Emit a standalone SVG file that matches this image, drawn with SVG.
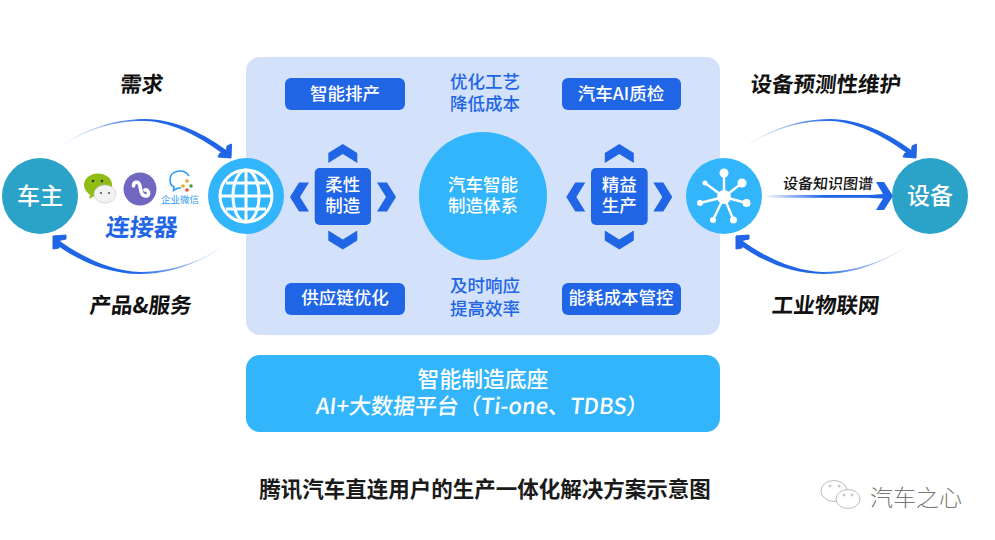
<svg xmlns="http://www.w3.org/2000/svg" width="995" height="540" viewBox="0 0 995 540">
<style>
text{font-family:"Noto Sans CJK SC","Noto Sans",sans-serif;text-anchor:middle}
.lbl{font-size:21.500px;font-weight:700;fill:#111}
.w{fill:#fff;font-weight:500}
.t{font-size:17.500px}
.pill{fill:#1f65e6}
.blue{fill:#1f65e6;font-weight:500}
.ch{fill:#1f65e6}
.teal{fill:#2ba2c8}
.sky{fill:#33b5fb}
.gl{fill:none;stroke:#fff;stroke-width:3}
.nw{stroke:#fff;stroke-width:2.4}
</style>
<defs>
<linearGradient id="gr" gradientUnits="userSpaceOnUse" x1="53" x2="150" y1="0" y2="0"><stop offset="0" stop-color="#1f65e6" stop-opacity="0"/><stop offset="1" stop-color="#1f65e6"/></linearGradient>
<linearGradient id="gl" gradientUnits="userSpaceOnUse" x1="232" x2="135" y1="0" y2="0"><stop offset="0" stop-color="#1f65e6" stop-opacity="0"/><stop offset="1" stop-color="#1f65e6"/></linearGradient>
<linearGradient id="gs" x1="0" x2="1" y1="0" y2="0"><stop offset="0" stop-color="#1f65e6" stop-opacity="0"/><stop offset="0.5" stop-color="#1f65e6"/></linearGradient>
<path id="up" d="M-14.500 -10 L0 -19 L14.500 -10 L14.500 0 L0 -9 L-14.500 0Z"/>
<path id="arcT" d="M53 152 C85 127 118 119 145 119 C175 119 205 134 229 152 L226 156 C203 139 175 122 145 121 C118 120.500 86 127.500 53 152Z"/>
<path id="arcB" d="M232 240 C200 264.500 167 272 140 272 C110 271 80 256 57 239 L54 243 C78 261 108 274 140 274 C167 274 200 265.500 232 240Z"/>
</defs>
<rect width="995" height="540" fill="#fff"/>
<g id="panel"><rect x="246" y="57" width="474" height="278" rx="14" fill="#d3e2fa"/></g>
<g id="connectors">
<use href="#arcT" fill="url(#gr)"/>
<path class="ch" d="M218 157 L231 158 L231.500 144 L227 146 L226.500 152.500 L220 153Z" stroke="#1f65e6" stroke-width="1"/>
<use href="#arcB" fill="url(#gl)"/>
<path class="ch" d="M53 249 L53 236 L66 235 L66 239 L59 240.500 L59 248Z" stroke="#1f65e6" stroke-width="1"/>
<use href="#arcT" transform="translate(685,0)" fill="url(#gr)"/>
<path class="ch" d="M903 157 L916 158 L916.500 144 L912 146 L911.500 152.500 L905 153Z" stroke="#1f65e6" stroke-width="1"/>
<use href="#arcB" transform="translate(683,0)" fill="url(#gl)"/>
<path class="ch" d="M736 249 L736 236 L749 235 L749 239 L742 240.500 L742 248Z" stroke="#1f65e6" stroke-width="1"/>
<rect x="763" y="195" width="122" height="2.800" fill="url(#gs)"/>
<path class="ch" d="M876 182 L884 182 L893 196 L884 210 L876 210 L883 198.500 L870 198 L870 195 L883 194Z"/>
</g>
<g id="owner"><circle class="teal" cx="40" cy="196" r="38"/><text class="w" x="40" y="204" font-size="23">车主</text></g>
<g id="connector-apps">
<ellipse cx="98" cy="185" rx="14" ry="11.500" fill="#8fbd14"/><path d="M90 195 L89 199 L96 195Z" fill="#8fbd14"/>
<ellipse cx="105" cy="194" rx="11" ry="9" fill="#f2f2f2" stroke="#ccc" stroke-width=".7"/>
<circle cx="93" cy="181" r="1.300" fill="#333"/><circle cx="102" cy="181" r="1.300" fill="#333"/><circle cx="101" cy="193" r="1.100" fill="#555"/><circle cx="109" cy="193" r="1.100" fill="#555"/>
<circle cx="140" cy="189" r="16.500" fill="#7068c0"/>
<path d="M133.500 186 C133.500 181 139 181 140 186 C141 191 141 196 146 196 C150 196 149 189 145 190" fill="none" stroke="#fff" stroke-width="3.600" stroke-linecap="round"/>
<path d="M189 176 C184 168 170 170 170 180 C170 184 172 186 174 187 L173.500 190.500 L178 188 L181 188" fill="none" stroke="#2e9bf0" stroke-width="1.600"/>
<circle cx="187" cy="190" r="1.800" fill="#e5532d"/><circle cx="191" cy="186" r="1.800" fill="#43a047"/><circle cx="187" cy="181" r="1.800" fill="#e8a818"/><circle cx="183" cy="186" r="1.800" fill="#e8a818"/>
<text x="180" y="203" font-size="9.500" fill="#2e9bf0">企业微信</text>
<text class="blue" transform="translate(141,236) skewX(-6)" font-size="24" style="font-weight:700">连接器</text>
</g>
<g id="globe"><circle class="sky" cx="246" cy="196" r="38"/><circle class="gl" cx="246" cy="196" r="26"/><ellipse class="gl" cx="246" cy="196" rx="13" ry="26"/><path class="gl" d="M246 170V222M220 196H272M226 183H266M226 209H266"/></g>
<g id="device"><circle class="teal" cx="930" cy="196" r="38"/><text class="w" x="930" y="204" font-size="23">设备</text></g>
<g id="iot"><circle class="sky" cx="724" cy="196" r="38"/>
<path class="nw" d="M724 197L724 173M724 197L742 183M724 197L746.500 203M724 197L733.500 220M724 197L713 220M724 197L700 203M724 197L705 183"/>
<g fill="#fff"><circle cx="724" cy="197" r="7"/><circle cx="724" cy="173" r="4.500"/><circle cx="742" cy="183" r="4.500"/><circle cx="746.500" cy="203" r="4"/><circle cx="733.500" cy="220" r="3.500"/><circle cx="713" cy="220" r="3"/><circle cx="700" cy="203" r="3"/><circle cx="705" cy="183" r="2.500"/></g></g>
<g id="labels">
<text class="lbl" transform="translate(141,92) skewX(-6)">需求</text>
<text class="lbl" transform="translate(140,313) skewX(-6)">产品&amp;服务</text>
<text class="lbl" transform="translate(825,92) skewX(-6)">设备预测性维护</text>
<text class="lbl" transform="translate(825,313) skewX(-6)">工业物联网</text>
<text transform="translate(827.500,189) skewX(-6)" font-size="15" font-weight="500" fill="#111">设备知识图谱</text>
</g>
<g id="n1"><rect class="pill" x="285" y="78" width="120" height="32" rx="6"/><text class="w t" x="345" y="100">智能排产</text></g>
<g id="n2"><rect class="pill" x="562" y="78" width="119" height="32" rx="6"/><text class="w t" x="621" y="100">汽车AI质检</text></g>
<g id="n3"><rect class="pill" x="285" y="283" width="120" height="32" rx="6"/><text class="w t" x="345" y="304">供应链优化</text></g>
<g id="n4"><rect class="pill" x="562" y="283" width="119" height="32" rx="6"/><text class="w t" x="621" y="304">能耗成本管控</text></g>
<g id="t1"><text class="blue t"><tspan x="485" y="88">优化工艺</tspan><tspan x="485" y="110">降低成本</tspan></text></g>
<g id="t2"><text class="blue t"><tspan x="485" y="292">及时响应</tspan><tspan x="485" y="315">提高效率</tspan></text></g>
<g id="center"><circle class="sky" cx="483" cy="196" r="64"/><text class="w t"><tspan x="483" y="191">汽车智能</tspan><tspan x="483" y="212">制造体系</tspan></text></g>
<g id="flex"><rect class="pill" x="314.700" y="168" width="56.300" height="57" rx="5"/><text class="w t"><tspan x="342.800" y="191">柔性</tspan><tspan x="342.800" y="212">制造</tspan></text>
<g class="ch"><use href="#up" transform="translate(342.800,163)"/><use href="#up" transform="translate(342.800,230.500) scale(1,-1)"/><use href="#up" transform="translate(309,197) rotate(-90)"/><use href="#up" transform="translate(377,197) rotate(90)"/></g></g>
<g id="lean"><rect class="pill" x="591" y="168" width="56.700" height="57" rx="5"/><text class="w t"><tspan x="619.300" y="191">精益</tspan><tspan x="619.300" y="212">生产</tspan></text>
<g class="ch"><use href="#up" transform="translate(619.300,163)"/><use href="#up" transform="translate(619.300,230.500) scale(1,-1)"/><use href="#up" transform="translate(585.300,197) rotate(-90)"/><use href="#up" transform="translate(653.300,197) rotate(90)"/></g></g>
<g id="base"><rect class="sky" x="246" y="355" width="474" height="77" rx="14"/><text class="w" font-size="21.800" x="483" y="387">智能制造底座</text><text class="w" transform="translate(481.500,414) skewX(-6)" font-size="22">AI+大数据平台（Ti-one、TDBS）</text></g>
<text id="title" x="485" y="497" font-size="21.500" font-weight="700" fill="#1a1a1a">腾讯汽车直连用户的生产一体化解决方案示意图</text>
<g id="watermark" fill="none" stroke="#aaa" stroke-width=".8"><ellipse cx="834" cy="491" rx="13" ry="10.500"/><ellipse cx="848" cy="499" rx="12" ry="9.500" fill="#fff"/><circle cx="830" cy="486" r="1"/><circle cx="839" cy="486" r="1"/><circle cx="844" cy="495" r="1"/><circle cx="852" cy="495" r="1"/><text x="916" y="506" font-size="23" font-weight="300" fill="#777" stroke="none">汽车之心</text></g>
</svg>
